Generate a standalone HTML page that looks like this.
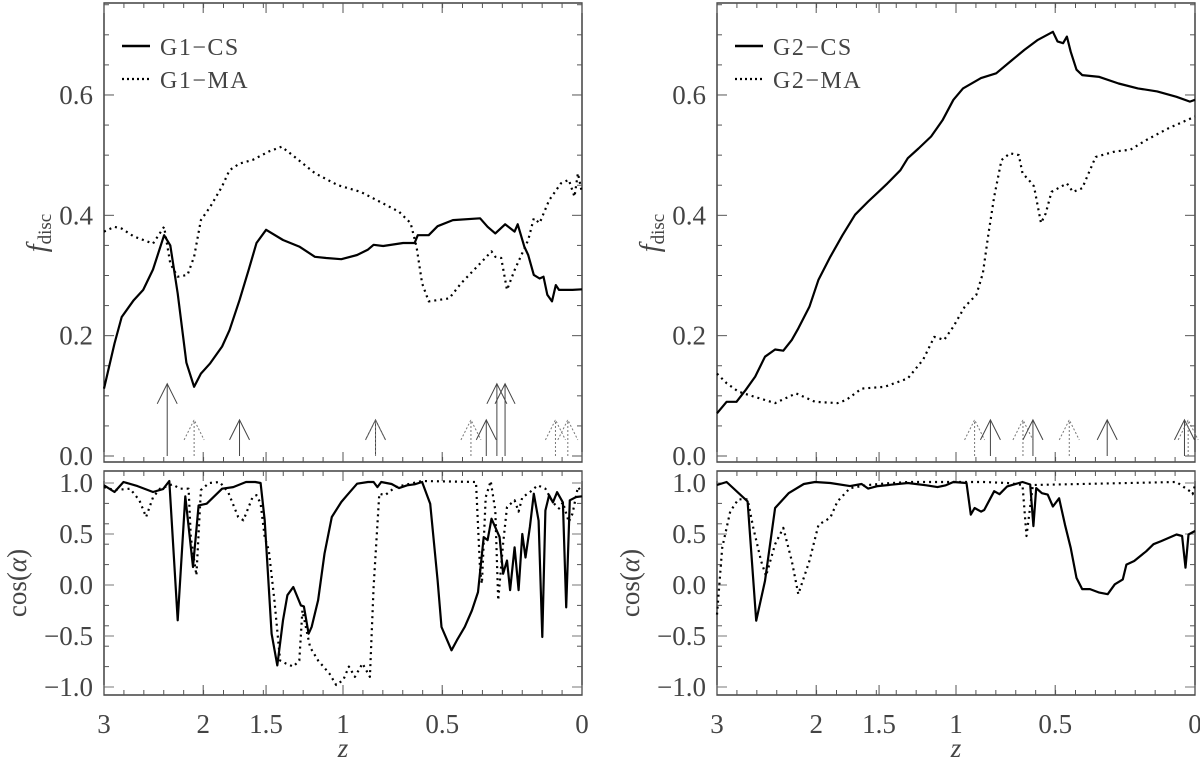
<!DOCTYPE html>
<html><head><meta charset="utf-8">
<style>
html,body{margin:0;padding:0;background:#fff;}
svg{display:block;}
text{font-family:"Liberation Serif",serif;fill:#444;}
</style></head>
<body>
<svg id="fig" width="1200" height="759" viewBox="0 0 1200 759" xmlns="http://www.w3.org/2000/svg"></svg>
<script>
// ---------- data ----------
const g1csZ = [3.00,2.88,2.80,2.67,2.57,2.47,2.36,2.30,2.23,2.15,2.08,2.02,1.94,1.84,1.78,1.70,1.63,1.57,1.50,1.38,1.27,1.17,1.10,1.01,0.92,0.86,0.83,0.78,0.68,0.625,0.61,0.56,0.52,0.454,0.344,0.315,0.286,0.25,0.216,0.205,0.182,0.169,0.150,0.131,0.118,0.106,0.091,0.079,0.069,0.028,0];
const g1csF = [0.112,0.187,0.231,0.259,0.276,0.310,0.367,0.350,0.270,0.155,0.115,0.137,0.154,0.182,0.209,0.259,0.309,0.354,0.376,0.359,0.348,0.331,0.329,0.327,0.334,0.343,0.351,0.349,0.354,0.354,0.367,0.367,0.382,0.392,0.395,0.381,0.370,0.385,0.373,0.385,0.348,0.334,0.301,0.295,0.298,0.268,0.257,0.284,0.276,0.276,0.277];
const g1maZ = [3.00,2.88,2.80,2.67,2.47,2.36,2.30,2.23,2.14,2.08,2.02,1.94,1.84,1.78,1.70,1.60,1.48,1.39,1.30,1.17,1.03,0.90,0.80,0.70,0.644,0.616,0.59,0.56,0.47,0.42,0.344,0.30,0.286,0.264,0.243,0.216,0.169,0.150,0.131,0.10,0.063,0.039,0.022,0.012,0];
const g1maF = [0.373,0.381,0.378,0.365,0.353,0.381,0.320,0.298,0.301,0.331,0.392,0.414,0.448,0.475,0.486,0.492,0.506,0.514,0.497,0.470,0.450,0.439,0.423,0.406,0.387,0.348,0.287,0.257,0.262,0.287,0.320,0.340,0.331,0.329,0.276,0.309,0.359,0.395,0.387,0.425,0.453,0.459,0.431,0.470,0.437];
const g2csZ = [3.00,2.89,2.78,2.68,2.58,2.48,2.38,2.30,2.22,2.16,2.06,1.98,1.88,1.78,1.68,1.58,1.50,1.44,1.35,1.30,1.23,1.15,1.08,1.015,0.96,0.86,0.78,0.70,0.64,0.58,0.51,0.49,0.466,0.45,0.434,0.41,0.387,0.32,0.248,0.18,0.116,0.055,0.015,0];
const g2csF = [0.071,0.090,0.090,0.110,0.132,0.165,0.177,0.175,0.193,0.212,0.248,0.293,0.331,0.367,0.401,0.423,0.440,0.453,0.475,0.495,0.511,0.531,0.558,0.592,0.611,0.628,0.636,0.658,0.675,0.691,0.705,0.689,0.686,0.697,0.672,0.642,0.633,0.630,0.619,0.611,0.606,0.597,0.589,0.592];
const g2maZ = [3.00,2.89,2.76,2.60,2.38,2.18,2.01,1.82,1.75,1.63,1.46,1.30,1.20,1.13,1.07,1.015,0.95,0.885,0.85,0.82,0.79,0.753,0.71,0.667,0.649,0.613,0.595,0.563,0.542,0.516,0.45,0.425,0.387,0.334,0.262,0.206,0.152,0.079,0];
const g2maF = [0.137,0.121,0.107,0.099,0.088,0.104,0.090,0.088,0.093,0.112,0.115,0.129,0.160,0.198,0.193,0.215,0.248,0.268,0.304,0.370,0.431,0.492,0.503,0.500,0.470,0.456,0.448,0.387,0.403,0.439,0.453,0.439,0.445,0.497,0.506,0.509,0.525,0.545,0.564];

const c1csZ = [3.00,2.88,2.78,2.63,2.47,2.37,2.31,2.23,2.16,2.09,2.04,1.97,1.84,1.75,1.65,1.58,1.54,1.51,1.46,1.42,1.38,1.35,1.31,1.26,1.24,1.21,1.19,1.15,1.11,1.066,1.01,0.977,0.92,0.86,0.83,0.81,0.79,0.737,0.70,0.66,0.625,0.59,0.553,0.52,0.503,0.46,0.437,0.405,0.376,0.352,0.33,0.315,0.30,0.27,0.257,0.243,0.232,0.216,0.202,0.189,0.178,0.163,0.150,0.134,0.122,0.112,0.10,0.088,0.075,0.057,0.047,0.036,0.017,0];
const c1csC = [0.977,0.912,1.01,0.97,0.912,0.94,1.02,-0.346,0.87,0.176,0.78,0.797,0.944,0.96,1.01,1.01,1.0,0.634,-0.477,-0.788,-0.346,-0.10,-0.02,-0.20,-0.21,-0.477,-0.41,-0.15,0.307,0.667,0.814,0.879,0.993,1.01,1.01,0.96,1.01,0.99,0.95,0.977,0.987,1.01,0.797,0.046,-0.412,-0.64,-0.54,-0.41,-0.25,-0.07,0.47,0.44,0.65,0.47,0.11,0.24,-0.05,0.37,-0.05,0.50,0.27,0.57,0.895,0.63,-0.51,0.73,0.88,0.81,0.91,0.81,-0.22,0.83,0.863,0.87];
const c1maZ = [3.00,2.88,2.71,2.61,2.54,2.47,2.40,2.28,2.21,2.13,2.11,2.06,2.02,1.95,1.86,1.79,1.71,1.67,1.60,1.57,1.54,1.51,1.48,1.44,1.40,1.36,1.31,1.27,1.25,1.20,1.15,1.08,1.04,0.998,0.966,0.932,0.89,0.85,0.83,0.80,0.77,0.718,0.59,0.36,0.344,0.337,0.322,0.303,0.286,0.275,0.257,0.243,0.216,0.202,0.189,0.163,0.137,0.112,0.088,0.069,0.057,0.039,0.028,0.012,0];
const c1maC = [0.96,0.93,0.944,0.83,0.667,0.86,0.944,0.987,0.944,0.944,0.47,0.095,0.93,1.0,1.01,0.91,0.667,0.634,0.86,0.88,0.80,0.47,0.34,-0.15,-0.74,-0.77,-0.80,-0.74,-0.25,-0.61,-0.74,-0.87,-0.98,-0.93,-0.80,-0.90,-0.77,-0.90,-0.02,0.895,0.88,0.96,1.02,1.01,0.144,0.013,0.86,1.02,0.73,-0.15,0.405,0.765,0.83,0.72,0.86,0.91,0.977,0.944,0.81,0.75,0.81,0.618,0.70,0.96,0.91];
const c2csZ = [3.0,2.89,2.66,2.57,2.48,2.38,2.25,2.11,2.01,1.88,1.72,1.63,1.58,1.51,1.30,1.18,1.11,1.06,1.015,0.94,0.916,0.895,0.86,0.843,0.81,0.79,0.763,0.724,0.649,0.613,0.598,0.585,0.559,0.533,0.51,0.483,0.458,0.434,0.41,0.387,0.356,0.32,0.288,0.262,0.233,0.22,0.193,0.152,0.128,0.103,0.055,0.038,0.028,0.019,0];
const c2csC = [0.98,1.01,0.82,-0.35,0.04,0.755,0.90,0.99,1.01,1.0,0.97,0.99,0.945,0.97,1.0,0.977,0.96,0.977,1.01,1.0,0.69,0.755,0.72,0.735,0.85,0.92,0.89,0.967,1.01,0.985,0.577,0.95,0.90,0.886,0.77,0.85,0.59,0.365,0.07,-0.04,-0.04,-0.075,-0.09,0.007,0.055,0.20,0.235,0.33,0.40,0.43,0.495,0.48,0.17,0.495,0.53];
const c2maZ = [3,2.94,2.85,2.76,2.66,2.60,2.52,2.47,2.38,2.30,2.22,2.16,2.06,1.98,1.88,1.82,1.72,1.58,1.41,1.30,0.843,0.724,0.649,0.63,0.60,0.055,0.015,0.007,0];
const c2maC = [-0.29,0.365,0.72,0.84,0.84,0.56,0.235,0.088,0.40,0.56,0.235,-0.09,0.235,0.59,0.66,0.82,0.95,0.98,1.0,1.01,1.01,1.0,0.98,0.48,0.98,1.01,0.92,0.89,0.98];

const arrows1Z = [2.33,2.08,1.70,0.82,0.82,0.38,0.32,0.28,0.25,0.08,0.042];
const arrows1H = [0.12,0.06,0.06,0.06,0.06,0.06,0.06,0.12,0.12,0.06,0.06];
const arrows1Dot = [false,true,false,false,true,true,false,false,false,true,true];
const arrows2Z = [0.895,0.81,0.647,0.60,0.44,0.29,0.031,0.02];
const arrows2H = [0.06,0.06,0.06,0.06,0.06,0.06,0.06,0.06];
const arrows2Dot = [true,false,true,false,true,false,false,true];

const xTickLabels = ["3","2","1.5","1","0.5","0"];
const xTickValues = [3,2,1.5,1,0.5,0];
const fTickLabels = ["0.0","0.2","0.4","0.6"];
const fTickValues = [0,0.2,0.4,0.6];
const cTickLabels = ["1.0","0.5","0.0","\u22120.5","\u22121.0"];
const cTickValues = [1,0.5,0,-0.5,-1];

// ---------- drawing ----------
const NS = "http://www.w3.org/2000/svg";
const svg = document.getElementById("fig");
function mk(tag, attrs, parent){
  const e = document.createElementNS(NS, tag);
  for (const k in attrs) e.setAttribute(k, attrs[k]);
  (parent||svg).appendChild(e);
  return e;
}
const L4 = Math.log(4);
function xScale(x0, W){ return z => x0 + (L4 - Math.log(1+z)) / L4 * W; }
const topY0 = 3, topY1 = 462, botY0 = 471, botY1 = 695;
const yF = v => 456 - v*601.7;
const yC = v => 585 - v*102;

function panel(x0, W, key, csZ, csF, maZ, maF, ccZ, ccC, cmZ, cmC, aZ, aH, aDot){
  const x = xScale(x0, W);
  const g = mk("g", {});
  
  
  [[topY0, topY1, 'top'], [botY0, botY1, 'bottom']].forEach(([a, b, n]) => {
    const r = mk("rect", {x:x0, y:a, width:W, height:b-a, fill:"none", stroke:"#222", "stroke-width":1.3}, g);
    
    
    for (let i=1;i<24;i++){
      const xx = x0 + i*W/24;
      const t1 = mk("line", {x1:xx, x2:xx, y1:b, y2:b-5, stroke:"#555", "stroke-width":1}, g);
      
      
      const t2 = mk("line", {x1:xx, x2:xx, y1:a, y2:a+5, stroke:"#555", "stroke-width":1}, g);
      
      
    }
  });
  for (let v=0; v<=0.751; v+=0.05){
    const yy = yF(v);
    const major = Math.abs(v/0.2 - Math.round(v/0.2)) < 1e-6;
    const len = major ? 10 : 5;
    const t1 = mk("line", {x1:x0, x2:x0+len, y1:yy, y2:yy, stroke:"#555", "stroke-width":1}, g);
    
    
    const t2 = mk("line", {x1:x0+W, x2:x0+W-len, y1:yy, y2:yy, stroke:"#555", "stroke-width":1}, g);
    
    
  }
  fTickValues.forEach((v,i) => {
    const t = mk("text", {x:x0-11, y:yF(v)+9, "font-size":27, "text-anchor":"end"}, g);
    t.textContent = fTickLabels[i];
    
    
  });
  for (let k=-5;k<=5;k++){
    const v = k*0.2, yy = yC(v);
    const t1 = mk("line", {x1:x0, x2:x0+5, y1:yy, y2:yy, stroke:"#555", "stroke-width":1}, g);
    
    
    const t2 = mk("line", {x1:x0+W, x2:x0+W-5, y1:yy, y2:yy, stroke:"#555", "stroke-width":1}, g);
    
    
  }
  cTickValues.forEach((v,i) => {
    const yy = yC(v);
    const t1 = mk("line", {x1:x0, x2:x0+10, y1:yy, y2:yy, stroke:"#777", "stroke-width":1}, g);
    
    
    const t2 = mk("line", {x1:x0+W, x2:x0+W-10, y1:yy, y2:yy, stroke:"#777", "stroke-width":1}, g);
    
    
    const t = mk("text", {x:x0-11, y:yy+9, "font-size":27, "text-anchor":"end"}, g);
    t.textContent = cTickLabels[i];
    
    
  });
  xTickValues.forEach((z,i) => {
    const xx = x(z);
    [[topY1,-10],[topY0,10],[botY1,-10],[botY0,10]].forEach(([yy,d]) => {
      const t = mk("line", {x1:xx, x2:xx, y1:yy, y2:yy+d, stroke:"#555", "stroke-width":1}, g);
      
      
    });
    const t = mk("text", {x:xx, y:733, "font-size":27, "text-anchor":"middle"}, g);
    t.textContent = xTickLabels[i];
    
    
  });
  const zt = mk("text", {x:x0+W/2, y:757, "font-size":27, "font-style":"italic", "text-anchor":"middle"}, g);
  zt.textContent = "z";
  
  
  const yt = mk("text", {transform:`translate(${x0-58},233) rotate(-90)`, "font-size":28, "text-anchor":"middle"}, g);
  
  
  const ys1 = mk("tspan", {"font-style":"italic"}, yt); ys1.textContent = "f";
  const ys2 = mk("tspan", {"font-size":19, dy:5}, yt); ys2.textContent = "disc";
  const ct = mk("text", {transform:`translate(${x0-78},583) rotate(-90)`, "font-size":27, "text-anchor":"middle"}, g);
  
  
  const c1 = mk("tspan", {}, ct); c1.textContent = "cos(";
  const c2 = mk("tspan", {"font-style":"italic"}, ct); c2.textContent = "\u03b1";
  const c3 = mk("tspan", {}, ct); c3.textContent = ")";
  aZ.forEach((z,i) => {
    const xx = x(z), yb = yF(0), yt2 = yF(aH[i]);
    const col = aDot[i] ? "#777" : "#444";
    const ag = mk("g", {stroke:col, "stroke-width":1, fill:"none"}, g);
    
    
    const sh = mk("line", {x1:xx, x2:xx, y1:yb, y2:yt2}, ag);
    if (aDot[i]) sh.setAttribute("stroke-dasharray", "2,2");
    const hd = mk("polyline", {points:`${xx-10},${yt2+20} ${xx},${yt2} ${xx+10},${yt2+20}`}, ag);
    if (aDot[i]) hd.setAttribute("stroke-dasharray", "2,2");
  });
  function series(zs, vs, yfun, dotted, name){
    const pts = zs.map((z,i) => x(z).toFixed(1) + "," + yfun(vs[i]).toFixed(1)).join(" ");
    const p = mk("polyline", {points:pts, fill:"none", stroke:"#000", "stroke-width":2.2, "stroke-linejoin":"round"}, g);
    if (dotted) p.setAttribute("stroke-dasharray", "2,4");
    
    
  }
  series(csZ, csF, yF, false, key + '-cs-fdisc-line');
  series(maZ, maF, yF, true, key + '-ma-fdisc-line');
  series(ccZ, ccC, yC, false, key + '-cs-cos-line');
  series(cmZ, cmC, yC, true, key + '-ma-cos-line');
  const lg = mk("g", {}, g);
  
  
  const l1 = mk("line", {x1:x0+18, x2:x0+46, y1:46, y2:46, stroke:"#000", "stroke-width":2.5}, lg);
  
  
  const t1 = mk("text", {x:x0+56, y:55, "font-size":24, "letter-spacing":1.5}, lg);
  t1.textContent = (key==='left' ? "G1" : "G2") + "\u2212CS";
  
  
  const l2 = mk("line", {x1:x0+18, x2:x0+46, y1:79, y2:79, stroke:"#000", "stroke-width":2.2, "stroke-dasharray":"2,3"}, lg);
  
  
  const t2 = mk("text", {x:x0+56, y:88, "font-size":24, "letter-spacing":1.5}, lg);
  t2.textContent = (key==='left' ? "G1" : "G2") + "\u2212MA";
  
  
}
panel(104, 478, 'left', g1csZ, g1csF, g1maZ, g1maF, c1csZ, c1csC, c1maZ, c1maC, arrows1Z, arrows1H, arrows1Dot);
panel(717, 478, 'right', g2csZ, g2csF, g2maZ, g2maF, c2csZ, c2csC, c2maZ, c2maC, arrows2Z, arrows2H, arrows2Dot);
</script>
</body></html>
